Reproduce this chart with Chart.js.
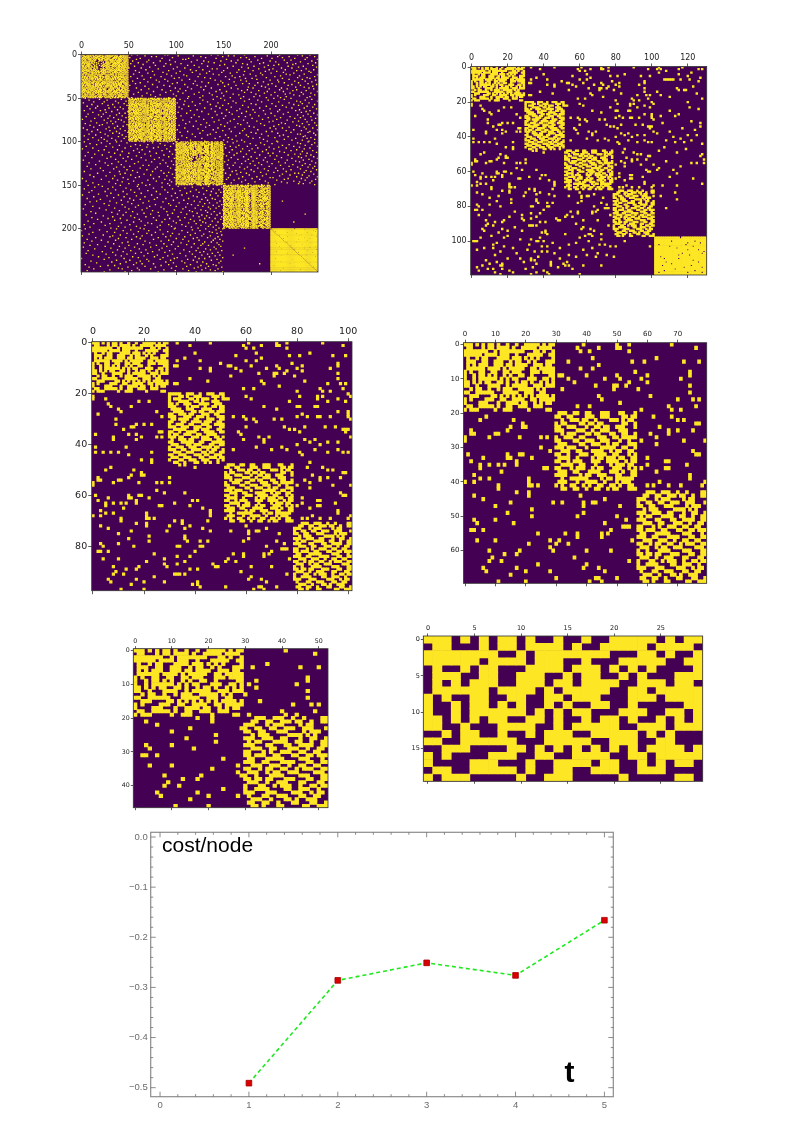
<!DOCTYPE html>
<html>
<head>
<meta charset="utf-8">
<title>Adjacency matrices and cost per node</title>
<script src="https://cdn.jsdelivr.net/npm/chart.js@4"></script>
<style>
  body { margin: 0; background: #fff; }
  canvas { position: absolute; }
  canvas.matrix { filter: blur(0.3px); }
</style>
</head>
<body>
<script>
// Maps 2-6 are nested cuts of one matrix, so they share the group data below.
// Groups are in order A B C D E.
const groupCols = [30, 22, 27, 23, 29];
const groupRows = [20, 28, 23, 27, 22];
const map2Groups = [0, 1, 2, 3, 4];
const map3Groups = [0, 1, 2, 3];
const map4Groups = [0, 2, 3];
const map5Groups = [0, 3];
const map6Groups = [0];

// group A: purple columns per row
const blockADark = [
  [3,5,7,10,12,13,15,16,18,19,25,27],
  [0,3,4,5,7,10,15,17,18,24,29],
  [8,9,11,20,21,22,25,27,28],
  [6,11,15,16,18,19,20,26,27],
  [0,2,3,5,8,9,10,15,19,21,23,25,26,27,28],
  [0,4,5,8,9,13,14,16,19,20,22,24,25,26],
  [0,2,4,8,9,13,16,21,22,26,29],
  [0,7,12,14,20,21,24],
  [1,3,4,7,8,11,12,15,19,20,21,25],
  [1,2,4,7,9,11,12,14,16,17,20,21,23,24,25,26,27],
  [1,2,4,11,13,15,18,19,20,24,25,28],
  [2,4,6,9,10,13,15,16,18,21,23,24,26,28],
  [2,3,5,6,7,12,13,15,21,22,26],
  [0,1,3,6,7,9,10,12,16,17,23,25,27,28,29],
  [2,3,10,11,12,18,19,23,24,27,28,29],
  [0,1,5,6,7,8,11,13,15,17,19,21,23,28],
  [1,3,4,5,6,10,11,14,15,20,21,24],
  [1,2,3,4,8,9,10,12,13,18,21,22,24,26,29],
  [0,3,4,10,12,13,16,17,21,22,26,27,28,29],
  [1,5,6,7,8,9,11,12,16,17,18,19,20,22,23,24,25,26,29]
];
const blockB = [
  "1111100111001001110011","1000110100111000011101","1011100011010111001001","1000111100110100011100",
  "1101001110001111001110","1110000101110010011011","0111100111000111100011","0011110001101100110111",
  "1100111011000111001100","1110001110011101000111","0110111100110001110011","1100011001111011100110",
  "1001110011000111001111","1110011100111001100011","0011111000110111000110","1100100111100011110011",
  "1011001110011001111000","1110110001110111001101","0100111011000111100110","1100011111001100011111",
  "0111000110111000110011","1001110011100111101100","1110011001111001011001","0011100111000110110011",
  "1100111000111011001110","0111001110001100111011","1000110011100111000101","0011001000110010100100"
];
const blockC = [
  "011100110011000111000110001","110011000011100111000011011","001001110110010000111010110","101100001101101100000011001",
  "110011100010011011001110001","111000011100100111000111000","001011100011011000110011001","100111001100001110011011111",
  "110000110011100111000100100","011100001100111001011000111","111011100010000111110011001","001110011000111100101100110",
  "110010001110011110011000101","011110010000101101110110011","110010111000111001111001011","001111001100010000101110110",
  "110001011100101100011100101","011100110001111000111010011","111100001011001110001100011","001001111110000101101111110",
  "011100010011110010001011100","101001100101001100110100110","001100110010011001011000111"
];
const blockD = [
  "00011100111001001000011","00110011001110110010011","11100010111000010110000","10011001100111001110001",
  "11001100011100001011100","00101110000011110101000","11100111001100010011001","01011000111100110010011",
  "11100011000110011110011","00111001100011100100110","11000101001110011001100","11011100110001100110111",
  "01100011111000011100010","11100110001111000110011","00111001110010011001100","11001011001100101110011",
  "01110010110011100001110","10010001111000011100011","11011011000111000110011","01110010011100011000110",
  "10001100101110010011011","10011110000110011100100","11100011100001110010110","01000110011100011001100",
  "00111001000110100111000","01100110010001100011001","00110100011000001100111"
];
// group E is almost solid yellow: purple cells as [row, column]
const blockEHoles = [
  [0,14],[2,9],[2,22],[3,18],[3,25],[4,17],[5,8],[5,21],[6,12],[7,18],[7,24],[9,15],[9,26],
  [10,13],[10,19],[12,5],[12,13],[13,21],[14,6],[14,24],[15,9],[16,4],[17,16],[17,26],[18,11],
  [19,5],[19,22],[20,2],[20,18],[20,26],[11,3],[8,27],[4,2],[16,20]
];
// single yellow cells outside the blocks: [row, columns...]
const sparseCells = [
  [0,33,46,61,72,76,90,104,117],[1,38,59,66,72,73,98,103,105,115,126,128],[2,60,63,76,108],[3,104,122],[4,64,85,115,40],
  [5,77,81,94,99,120,56],[6,36,66,127],[7,33,42,60,64,107,108,109,110,111,112,116,121],[8,78,96,126,50],[9,32,33,53,54,62,72,82,96],
  [10,42,46,56,68,73,80,93],[11,46,58,76,82,123],[12,65,71,72,75,96,114],[13,54,71,79,115,118,119],[14,38,96,103],
  [15,45,83,125,66],[16,32,33,67,92,97,99,105],[17,73,110],[18,59,63,89,98,128],[19,80,90,93],
  [20,100,120],[21,0,60,81,88,90,101],[22,0,5,52,53,62,88,96],[23,18,22,77,92,99,121],[24,6,126],
  [25,7,15,67,80,81,87,88,110],[26,10,72],[27,11,25,96,100,115],[28,2,82,100,105,113],[29,27,55,59,80,84,88,89,93,100],
  [30,9,60,63,71,74,101],[31,122,64],[32,9,17,20,23,127,106],[33,15,16,60,75,83,91,95],[34,12,77,79,98,99,100,127],
  [35,26,27,57,81,99,117],[36,1,14,17,58,124],[37,8,19,25,27,65,69,101,110],[38,8,17,59,67,83,87,103],[39,67,85,92,96,120,125],
  [40,80,89,112],[41,1,13,64,74,116],[42,55,70,76,87,96,108,122],[43,1,4,7,10,23,81,92,98,100,113,118],[44,14,82,128],
  [46,19,23,107],[47,23,85,119],[48,34,36,104],[49,7,40,84,90,114],[50,5,16,92,94,128],
  [51,19,98,99,127],[52,15,19,20,86],[53,2,14,30,89,92,97,129],[54,2,3,10,11,83,89,108],[55,0,8,18,25,27,30,85,122,125,129],
  [56,0,80,94,101],[57,85,116],[58,25,104],[59,28,36,97,103,112],[60,1,14,18,19,98,99],
  [61,6,14,15,22,82,114],[62,2,17,39,41,88,89],[63,5,8,11,13,17,32,82,95,110],[64,5,26,27,38,80,88,89,123],[65,12,43,85],
  [66,3,46,96],[67,5,8,21,46,96,128],[68,0,3,21,46,86,101,106,114],[69,11,21,22,24,82,84,89,93,100],[70,11,32,35,45],
  [71,17,21,35],[72,3,21,30,38,60,113],[73,6,36,43,68],[74,15,29,46,54,61,64,65,105],[75,10,61,73],
  [76,22,36,114],[77,14,36,61],[78,22,37,42,45,59,72],[79,3,10,75],[80,4,16,33,34,42,43,68],
  [81,74,75,76,108],[82,2,3,6,40,70],[83,24,55,59,67,69],[84,33,38,59,67],[85,4,10,28,53,77],
  [86,21,36,52,56],[87,28,33,47],[88,8,18,29,48,49,62,70],[89,13,17,38,41],[90,58,9],
  [91,8,12,32,33,34,36,76],[92,62,24],[93,17,61,66,6],[94,7,28,41,68,20],[95,39,41,15],[96,42,52,65,66,72],[97,11,20,63,67],
  [98,5,38,60,18],[99,33,72,27],[100,1,2,3,36,37,40,65,85],[101,45,14,58],[102,12,54,71,74,32],[103,18,39,42,77,80,99],
  [104,7,12,23,49,67],[105,31,62,3],[106,35,39,42,16],[107,46,25,70],[108,13,54,64,75],[109,58,69,79,37],
  [110,20,27,33,49],[111,33,35,8],[112,29,53,14,44],[113,10,17,36,44,51],[114,6,16,17,44,52,54,62,72],
  [115,3,34,48],[116,9,12,17,30,56],[117,40,21,4],[118,23,42,13,36],[119,33,43,60,16]
];

// 250-node map: cells are under one pixel here, so this is an estimate of the
// look of each block (hex rows, 50 cells each), not an exact reading
const big1Rows = [
  "E5A96D3B7C5A8","B36D9A5ECA6D4","9DA6735B96EA8","6B95CE6A3D5B4","D56AB39C75A68","A9E5367BC9D54","5C6B1AD36BA98","C95A1435D6E74",
  "B6D42129A5CB8","6A92813D5B964","D5A8246A3D6A8","93C4819C6AB54","E5A21273D5968","6B9285AC69DA4","A5D8413A96B78","5CA68136C5AD4",
  "D9624D9A6B5C8","A6B5036D95A68","5D96A5C36BDA4","E3A96D5A9C658","9C5AB36E5A9B4","B69DA5C96D6A8","6D5A97A3C5B74","C5B96A5DA96C8",
  "A96E5C3A6D594","5AD39B6C95EA8","D65AC96A5B3D4","96BD5A3D6AC58","EA596CB5A9D64","6D9A5E36C5AB8","B5C6A9D5963D4","9A6D53AE6B5C8",
  "5E9CA6D3A96B4","D3A96B5C6DA58","A6C5DA96B5E34","6BA95C3DA6D98","C96DA56B9C5A4","95AE6C39D6B58","E6B95AC36A9D4","5AD6C9A5E3964",
  "B96A5DC6A5B38","6D39AC5B96EA4","D5A6B96D3C5A8","A3C96E5A6B9D4","5B6DA9C5D6A38","C96A35EB9A6D4","9E5C6DA369B58","6AB59C6DA5E34",
  "D56B3A96C9DA8","A96D5C6A5B364",
  "C96EA5D3A6B98","5BA96C6D95A34","E6A5D39AC6B58","9C5B6EA5396D4","6D9AC5B6AE958","B5A369DC6A5B4","A96DC53BE5968","5EB6A9C6D3A54",
  "D39A6C5BA6E98","6AC5E96D35B64","95DB6AA3C96D8","E6593DAC5B6A4","B9A6D56C9E358","5D6CA9B3A5D64","A6B95ED6A3C98","C5A3D96BA65E4",
  "96DA5C3EB6958","6BE5A96C5AD34","D95C6BA36D9A8","A3B69DC5A5E64","5EA96B6DC3958","C6D5A39EA6B54","B96A5DC36E598","6DB5AE9C5A364",
  "E5A96C3D6BA98","9C6DB5A69E354","5AB3E6C9D6A58","D69A5CB5A3E64","A5EC96D3B6958","6D3A9C5EA5B64","C9B6D5A36AD98","95A6EB3DC6954",
  "EB5C96AD5A368","6AD39CB6E5A54","D5C6A9E35B698","A96B5DC6A3DE4","5D3EA6B9C6958","B6A95CD5AE364","96DC5AB36D9A8","E5A36D9CB5A64",
  "6C9DA5E6A3B58","DA5B96C35E6A4","A36DC9B5A6958","5E96AB6DC3A54","C5AD369EB6A98","96BA5DC6E3594","6D5EA39C6AB58","B9C65AD3E6964",
  "E3A5D96BC6A58","5B96CAE36D9A4",
  "C6A95DB3E6598","9D35AC6E96B54","6AE59D3CA6B98","B5C96D5A3E6A4","D6A3C95BE6958","A9B56DC3A6E54","5ED6A9B3C6598","C96BA5E36DA54",
  "3AD9C6B5E6A98","E6B5A3D9C6954","96DC5BA6E3598","5BA96CE36D6A4","DA6C39B5E6A58","6E95AD3C6B954","B5C96A52C6DA8","A96D3C4136E54",
  "C5A8621196DB8","6D94825AC69E4","9AC6241B6D5A8","E5B384C6A95D4","5D96429AE6C38","B6A98136D5A94","96DC05AC6EB58","D35A9E6CB6964",
  "A6E5C9D3A5B68","5C96BA6DE3954","C3DA96E5B6A58","9E6B5AC36D9A4","6A5D9CB3EA658","E9C6A5D396B54","B53ED9A6C6A98","6DA9C5B3E6954",
  "D5EA396CB7158","A96C5BDE3A2C4","5ED6A9C3B9E38","C3A96DB5E16D4","96E5AD3C6D2B8","6BC95AE6D74A4","EA563D9CB15E8","B9D6A5C3E8B34",
  "5C6EA9B3DA478","D96B35CAE2D94","A3E6C5D9B7268","6D9AE5B3C1EA4","C5B6D9A3E4738","9A36EC5DB89C4","E6D95BA3C2B78","5BAC96E36F148",
  "B6E3A5C9D8A74","96DAC3E5B13E8",
  "E5AD396CB4D38","9C6B5EA3D7A24","6AE9D3C5B2C98","D35CA96EB8574","B6E9A5D3C1BE8","A5C96D3EB4724","5E6BA9D3C9A38","C96DE35AB2D64",
  "9AB36ED5C7198","6DC5A9E3B8E24","E3B69AD5C1578","D5A6E9C3BA3C4","B96DC5A3E7418","5AE6B9D3C2DA4","AC3D96E5B9368","96E5BAD3C47E4",
  "6DA9C3E5B12B8","C5E36AD9B7D44","E9A6DB53CA198","B3D95AE6C8E34","A6C5E9D3B5278","5BDA96E3C1AD4","D96CE3A5B7368","6EA5C9D3B2C14",
  "95B6DAE3C9E58","C3E6A9D5B4A74","EA96D5C3B1D28","B5D3A6E9C7364","6C9AE5D3B8A18","D96AB5E3C25E4","A5E3C96DB9C78","5D96EA3CB1624",
  "C6AB5E93D74B8","E5936DCAB2E14","96ADC5E3BA578","B3E9A5D6C1C84","6D5AC9E3B7A28","A96E5D3CB4D64","D5C3B6A9E9178","5AE96C3DB2BA4",
  "E36DA9C5B8548","9CB5E6A3D1E74","C5A96DE3B6A28","6DE3A95CB94D4","BA5C96E3D2738","D3E6B5A9C18E4","A96C5DE3B7C58","5EB3C96AD4A24",
  "96DA3EC5B1D98","C36E95ABD8674",
  "7FFFFFBFFFFFC","BFFFFFFFEFFF4","DFFFFDFFFFFBC","EBFFFFFFFFFEC","F7FFBFFFFDFFC","FBFFFFEFFFFFC","FDFFFFFF7FFFC","FEBFFFFFFFEFC",
  "FF7FFFFDFFFFC","FFBFBFFFFFFF4","FFDFFFFFEFFFC","FFEBFFFFFFBFC","FFF7FFFBFFFFC","FFFBFFFFFDFFC","FBFDFFFFFFFFC","FFFEBFEFFFFFC",
  "FFFF7FFFFFDFC","FDFFBFFFFFFFC","FFFFDFFFBFFFC","FFFFEBFFFFFFC","FFBFF7FFFFFEC","FFFFFBFFFFBFC","FFFFFDFFEFFFC","FFEFFEBFFFFFC",
  "FFFFFF7FFFFF4","FFFFFFBFFDFFC","FDFFFFDFFFFFC","FFFFFFEBFFF7C","FFFFBFF7FFFFC","FFFFFFFBFFFFC","FFFFFFFDFBFFC","FFEFFFFEBFFFC",
  "FFFFFFFF7FFEC","FFFFFFFFBFFFC","FBFFFFFFDFFFC","FFFFFEFFEBFFC","FFFFFFFFF7FFC","FFDFFFFFFBFFC","FFFFFFFFFDFFC","FFFFFFFFFEBFC",
  "FFFFF7FFFF7FC","FFFFFFFFFFBFC","EFFFFFFFFFDFC","FFFFFFBFFFEBC","FFFFFFFFFFF7C","FFFBFFFFFFFBC","FFFFFFFFFFFDC","FFFFFFFEFFFEC",
  "FFDFFFFFFFFF4","FFFFFFFFFFFF8"
];
const big1Sparse = [
  [0,53,59,88,91,137,144,172,209,228,241],[1,67,102,118,155,161,196,233],[2,74,79,126,149,183,207,219,246],[3,51,96,131,168,174,212,238],[4,62,85,113,142,190,201,225],
  [5,58,107,110,153,177,236,249],[6,71,93,122,165,186,214,221],[7,54,83,129,147,158,199,243],[8,69,99,116,134,179,205,231],[9,60,76,140,163,192,217,247],
  [10,52,89,105,127,170,188,226,239],[11,65,94,151,175,208,223],[12,78,112,119,146,197,203,244],[13,56,87,133,160,182,218,234],[14,72,101,124,169,193,229,248],
  [15,50,63,109,154,176,211,222],[16,81,97,138,143,187,202,237],[17,68,115,128,166,198,215,245],[18,57,92,121,150,181,227,232],[19,75,104,135,172,194,206,240],
  [20,61,86,117,148,164,213,242],[21,70,100,132,157,189,200,224],[22,55,90,125,139,178,216,235],[23,77,108,145,171,191,220,249],[24,64,95,111,159,184,210,230],
  [25,52,84,123,152,167,204,246],[26,73,103,130,162,195,228,238],[27,59,98,136,173,180,212,241],[28,66,88,114,156,185,219,233],[29,79,106,141,168,199,207,247],
  [30,54,91,120,147,174,225,236],[31,70,82,127,161,192,208,243],[32,62,101,134,149,186,214,229],[33,57,96,118,170,177,201,239],[34,75,109,144,155,197,222,248],
  [35,51,87,122,163,183,218,231],[36,67,93,131,151,190,205,244],[37,80,112,126,176,194,226,235],[38,58,99,137,158,181,211,240],[39,71,104,116,165,198,217,245],
  [40,63,85,129,146,175,209,227],[41,50,94,110,169,187,223,237],[42,76,102,142,153,196,213,249],[43,60,89,124,172,179,204,232],[44,69,107,135,148,193,220,242],
  [45,55,97,119,160,184,215,234],[46,73,83,138,166,200,224,246],[47,64,100,128,150,188,207,230],[48,78,113,143,171,182,216,241],[49,53,92,125,157,195,210,238],
  [50,4,31,112,147,168,203,221],[51,19,42,104,139,177,214,243],[52,8,27,128,151,186,197,236],[53,36,47,109,160,172,227,249],[54,13,24,117,133,190,208,231],
  [55,2,39,101,144,163,219,240],[56,22,45,125,155,179,201,233],[57,11,33,108,136,184,224,246],[58,28,48,120,149,170,212,229],[59,6,17,113,142,195,205,238],
  [60,35,41,103,158,176,216,244],[61,15,29,130,146,188,222,235],[62,9,44,106,137,167,199,248],[63,25,38,122,153,181,209,230],[64,3,20,115,164,192,226,241],
  [65,32,49,127,141,174,207,237],[66,12,26,102,156,183,218,232],[67,40,46,111,148,169,200,245],[68,7,23,134,159,194,213,239],[69,18,37,119,143,178,228,249],
  [70,30,43,105,152,187,204,234],[71,5,21,124,166,173,220,242],[72,34,47,116,138,197,210,231],[73,14,28,100,150,180,225,247],[74,1,39,129,161,191,206,236],
  [75,24,42,107,145,171,217,243],[76,10,31,121,157,185,202,229],[77,36,45,114,140,198,223,238],[78,16,27,132,154,175,211,246],[79,4,33,110,165,189,215,233],
  [80,22,48,126,147,168,208,240],[81,9,19,103,135,193,227,248],[82,38,44,118,151,177,203,230],[83,13,29,131,162,182,219,235],[84,2,35,109,144,199,212,244],
  [85,26,41,123,156,172,205,237],[86,6,17,101,139,186,224,249],[87,30,46,128,149,170,216,232],[88,11,37,112,158,195,201,241],[89,20,49,104,142,179,221,239],
  [90,33,40,125,167,184,207,245],[91,8,25,117,136,190,228,231],[92,15,43,133,152,174,213,247],[93,3,28,106,163,197,209,236],[94,39,47,120,146,176,218,234],
  [95,12,21,111,155,188,204,242],[96,32,45,127,141,181,226,238],[97,7,24,102,159,192,214,246],[98,18,36,115,150,169,222,233],[99,27,42,130,164,196,206,240],
  [100,3,37,66,91,154,172,207,239],[101,21,48,75,160,189,228,246],[102,9,30,83,97,178,201,231],[103,16,57,70,151,193,219,243],[104,40,62,88,166,184,212,236],
  [105,5,26,52,94,157,175,224,249],[106,33,69,81,163,198,208,230],[107,12,46,76,152,186,216,241],[108,1,59,90,170,180,203,235],[109,24,38,64,99,159,195,227],
  [110,18,55,85,149,177,221,244],[111,43,72,93,168,191,209,233],[112,7,29,61,156,183,214,248],[113,35,50,79,164,197,202,238],[114,14,67,96,150,174,225,231],
  [115,22,41,87,161,188,218,242],[116,4,58,73,153,199,206,237],[117,31,49,92,171,179,229,245],[118,11,63,82,158,194,211,232],[119,27,44,98,148,185,222,249],
  [120,36,53,77,165,176,204,240],[121,2,68,86,155,192,217,234],[122,19,47,95,173,181,226,243],[123,39,60,74,151,196,208,230],[124,8,25,89,162,187,215,247],
  [125,32,56,83,169,178,201,236],[126,15,42,97,154,190,223,241],[127,28,65,71,160,183,210,233],[128,6,51,91,147,198,219,246],[129,37,45,80,167,175,228,239],
  [130,20,62,94,156,186,205,244],[131,10,34,78,172,193,213,231],[132,48,69,99,150,179,221,248],[133,23,54,84,163,197,207,237],[134,3,40,75,159,182,216,242],
  [135,30,59,92,168,189,203,235],[136,17,46,87,152,174,225,229],[137,41,66,96,164,195,212,245],[138,9,52,73,157,177,220,233],[139,26,35,90,149,191,209,240],
  [140,13,61,82,170,185,227,249],[141,44,57,98,155,199,202,238],[142,1,33,76,166,180,218,232],[143,21,49,88,153,188,214,247],[144,38,70,93,161,173,206,236],
  [145,5,55,79,148,194,224,243],[146,29,43,95,169,183,211,230],[147,12,64,85,158,197,217,241],[148,36,50,91,151,176,229,234],[149,18,60,72,165,190,204,246],
  [150,7,41,68,93,126,143],[151,22,59,102,134],[152,14,33,85,117,148],[153,47,76,109,128],[154,3,28,61,96,139],[155,36,52,88,121,145],[156,11,70,104,132],
  [157,25,44,79,115,137],[158,8,56,91,124,147],[159,31,63,99,111,142],[160,18,48,83,129],[161,1,39,74,106,136,168],[162,27,58,95,118,144],[163,13,45,67,122],
  [164,34,80,101,131,149],[165,6,51,89,113,138],[166,20,62,77,127,141],[167,42,55,97,108,133],[168,16,30,71,119,146,212],[169,9,49,86,125],[170,37,65,103,135,143],
  [171,24,53,92,112,130],[172,4,43,78,116,148],[173,29,60,94,123,139],[174,12,72,100,128,145],[175,46,57,84,110,134],[176,19,35,69,120,142],[177,2,50,87,107,136],
  [178,26,64,98,126,149],[179,40,75,114,131,183],[180,10,54,90,117,140],[181,32,47,81,105,133],[182,15,66,96,122,146],[183,38,59,73,111,137,236],[184,5,44,91,127,143],
  [185,23,52,82,118,132],[186,33,68,102,124,148],[187,11,56,76,109,135],[188,28,41,93,130,141],[189,17,61,88,115,147],[190,35,48,79,104,125],[191,7,63,97,119,138],
  [192,21,55,85,128,144,224],[193,42,70,100,113,131],[194,13,30,74,121,149],[195,3,51,92,106,136],[196,25,67,83,126,142],[197,39,58,95,110,134],[198,9,46,80,116,139],[199,31,62,99,123,145],
  [200,4,37,66,98,131,149],[201,19,52,83,117,142],[202,0,44,71,106,125],[203,27,60,91,135,147],[204,12,35,78,112,138],[205,48,69,96,120,143],[206,8,55,86,103,129],
  [207,23,41,74,115,148],[208,1,33,64,94,127,136],[209,30,58,89,109,144],[210,15,47,81,122,133],[211,39,62,100,118,141],[212,6,53,76,107,146],[213,21,36,92,124,139],
  [214,11,67,84,113,149],[215,28,49,97,130,137],[216,3,43,72,105,143],[217,34,59,87,119,128],[218,17,65,95,111,145],[219,9,50,79,126,134],[220,25,40,90,102,147],
  [221,2,56,73,116,140],[222,31,46,85,123,172],[223,14,61,99,131,142],[224,38,68,82,108,136],[225,7,52,93,121,148],[226,22,44,75,114,129],[227,33,63,88,125,144],
  [228,5,57,70,104,138],[229,26,48,96,117,133],[230,12,36,80,127,160,146],[231,42,66,91,110,141],[232,18,54,77,120,135],[233,29,60,86,101,149],[234,0,45,98,124,130],
  [235,24,69,83,112,143],[236,37,51,94,118,137],[237,10,62,71,106,147],[238,32,47,89,122,128],[239,16,58,97,109,145],[240,41,64,76,132,188],[241,4,55,92,115,139],
  [242,28,35,84,126,142],[243,20,67,100,111,134],[244,8,49,78,123,148],[245,39,59,95,119,131],[246,13,43,73,107,144],[247,30,61,87,127,136],[248,6,53,99,113,141],[249,24,46,81,121,149]
];

// cost/node series
const costT = [1, 2, 3, 4, 5];
const costValues = [-0.491, -0.286, -0.251, -0.276, -0.166];
const costXTicks = [0, 1, 2, 3, 4, 5];
const costYTicks = [0, -0.1, -0.2, -0.3, -0.4, -0.5];

const map1XTicks = [0, 50, 100, 150, 200];
const map1YTicks = [0, 50, 100, 150, 200];
const map2XTicks = [0, 20, 40, 60, 80, 100, 120];
const map2YTicks = [0, 20, 40, 60, 80, 100];
const map3XTicks = [0, 20, 40, 60, 80, 100];
const map3YTicks = [0, 20, 40, 60, 80];
const map4XTicks = [0, 10, 20, 30, 40, 50, 60, 70];
const map4YTicks = [0, 10, 20, 30, 40, 50, 60];
const map5XTicks = [0, 10, 20, 30, 40, 50];
const map5YTicks = [0, 10, 20, 30, 40];
const map6XTicks = [0, 5, 10, 15, 20, 25];
const map6YTicks = [0, 5, 10, 15];

const PURPLE = "#440154";
const YELLOW = "#fde725";

function sum(list) {
  return list.reduce((a, b) => a + b, 0);
}

function masterCells() {
  const cells = [];
  const colStart = i => sum(groupCols.slice(0, i));
  const rowStart = i => sum(groupRows.slice(0, i));
  blockADark.forEach((dark, r) => {
    for (let c = 0; c < groupCols[0]; c++) if (!dark.includes(c)) cells.push([r, c]);
  });
  [blockB, blockC, blockD].forEach((rows, k) => {
    rows.forEach((row, r) => {
      for (let c = 0; c < Math.min(row.length, groupCols[k + 1]); c++) {
        if (row[c] === "1") cells.push([rowStart(k + 1) + r, colStart(k + 1) + c]);
      }
    });
  });
  for (let r = 0; r < groupRows[4]; r++) {
    for (let c = 0; c < groupCols[4]; c++) {
      if (!blockEHoles.some(h => h[0] === r && h[1] === c)) cells.push([rowStart(4) + r, colStart(4) + c]);
    }
  }
  sparseCells.forEach(row => row.slice(1).forEach(c => cells.push([row[0], c])));
  return cells;
}

// keep the cells of some groups and close the gaps between them
function cutCells(all, groups) {
  const rowMap = {}, colMap = {};
  let nr = 0, nc = 0;
  groups.forEach(g => {
    const r0 = sum(groupRows.slice(0, g)), c0 = sum(groupCols.slice(0, g));
    for (let i = 0; i < groupRows[g]; i++) rowMap[r0 + i] = nr++;
    for (let i = 0; i < groupCols[g]; i++) colMap[c0 + i] = nc++;
  });
  const cells = [];
  all.forEach(([r, c]) => {
    if (rowMap[r] !== undefined && colMap[c] !== undefined) cells.push([rowMap[r], colMap[c]]);
  });
  return { cells, rows: nr, cols: nc };
}

function bigCells() {
  const cells = [];
  big1Rows.forEach((hex, r) => {
    const block = Math.floor(r / 50);
    const bits = hex.split("").map(h => parseInt(h, 16).toString(2).padStart(4, "0")).join("");
    for (let c = 0; c < 50; c++) if (bits[c] === "1") cells.push([r, block * 50 + c]);
  });
  big1Sparse.forEach(row => {
    row.slice(1).forEach(c => cells.push([row[0], c]));
  });
  return { cells, rows: 250, cols: 250 };
}

function placeCanvas(left, top, width, height, cls) {
  const canvas = document.createElement("canvas");
  canvas.width = width;
  canvas.height = height;
  canvas.style.left = left + "px";
  canvas.style.top = top + "px";
  if (cls) canvas.className = cls;
  document.body.appendChild(canvas);
  return canvas;
}

function heatmap(m, box, xTicks, yTicks, font, tickLen, inflate) {
  const padL = 34, padT = tickLen + font + 6, padB = tickLen + 3, padR = 12;
  const left = Math.floor(box.l - padL), top = Math.floor(box.t - padT);
  const width = Math.ceil(box.r + padR) - left, height = Math.ceil(box.b + padB) - top;
  const ctx = placeCanvas(left, top, width, height, "matrix").getContext("2d");
  const setTicks = list => scale => { scale.ticks = list.map(v => ({ value: v })); };
  const grid = { offset: false, drawOnChartArea: false, drawTicks: true, tickLength: tickLen, tickColor: "#333", tickWidth: 0.8 };
  const labels = { font: { family: "DejaVu Sans", size: font }, color: "#222", padding: 1, autoSkip: false, maxRotation: 0 };
  new Chart(ctx, {
    type: "bar",
    data: {
      datasets: [{
        data: m.cells.map(([r, c]) => ({ x: c, y: [r - 0.5, r + 0.5] })),
        backgroundColor: YELLOW,
        borderWidth: 0,
        barPercentage: 1,
        categoryPercentage: 1,
        inflateAmount: inflate,
        xAxisID: "x",
        yAxisID: "y",
      }],
    },
    options: {
      responsive: false,
      animation: false,
      events: [],
      layout: { autoPadding: false, padding: { right: width + left - box.r } },
      plugins: { legend: { display: false }, tooltip: { enabled: false } },
      scales: {
        x: {
          type: "linear", position: "top", offset: false, min: -0.5, max: m.cols - 0.5,
          afterBuildTicks: setTicks(xTicks),
          afterFit: s => { s.height = box.t - top; },
          grid: grid, border: { display: false }, ticks: labels,
        },
        x2: {
          type: "linear", position: "bottom", offset: false, min: -0.5, max: m.cols - 0.5,
          afterBuildTicks: setTicks(xTicks),
          afterFit: s => { s.height = top + height - box.b; },
          grid: grid, border: { display: false },
          ticks: { callback: () => "", autoSkip: false, maxRotation: 0 },
        },
        y: {
          type: "linear", reverse: true, min: -0.5, max: m.rows - 0.5,
          afterBuildTicks: setTicks(yTicks),
          afterFit: s => { s.width = box.l - left; },
          grid: grid, border: { display: false }, ticks: labels,
        },
      },
    },
    plugins: [{
      id: "plotBox",
      beforeDatasetsDraw(chart) {
        const a = chart.chartArea;
        chart.ctx.fillStyle = PURPLE;
        chart.ctx.fillRect(a.left, a.top, a.width, a.height);
      },
      afterDatasetsDraw(chart) {
        const a = chart.chartArea;
        chart.ctx.strokeStyle = "#333";
        chart.ctx.lineWidth = 0.8;
        chart.ctx.strokeRect(a.left, a.top, a.width, a.height);
      },
    }],
  });
}

const master = masterCells();
heatmap(bigCells(), { l: 81, r: 318, t: 54.5, b: 272 }, map1XTicks, map1YTicks, 8, 3, 0.22);
heatmap(cutCells(master, map2Groups), { l: 470.7, r: 706.7, t: 66.5, b: 275 }, map2XTicks, map2YTicks, 8, 3, 0.33);
heatmap(cutCells(master, map3Groups), { l: 91.7, r: 352, t: 341.7, b: 590.7 }, map3XTicks, map3YTicks, 9.5, 3.5, 0.33);
heatmap(cutCells(master, map4Groups), { l: 463.5, r: 706.7, t: 342.7, b: 583.3 }, map4XTicks, map4YTicks, 7, 3, 0.33);
heatmap(cutCells(master, map5Groups), { l: 133.3, r: 328, t: 648.7, b: 807.7 }, map5XTicks, map5YTicks, 6.3, 2.5, 0.33);
heatmap(cutCells(master, map6Groups), { l: 423.3, r: 702.7, t: 636, b: 781.3 }, map6XTicks, map6YTicks, 6.5, 2.5, 0.33);

// cost/node panel, frame ticks point inwards on all four sides
function costChart() {
  const box = { l: 150.7, r: 613.3, t: 832.3, b: 1096.7 };
  const left = 110, top = 812, width = 512, height = 304;
  const ctx = placeCanvas(left, top, width, height, "").getContext("2d");
  const labels = { font: { family: "Liberation Sans", size: 9.5 }, color: "#6b6b6b", padding: 3, autoSkip: false, maxRotation: 0 };
  const setTicks = list => scale => { scale.ticks = list.map(v => ({ value: v })); };
  const noGrid = { display: false, drawTicks: false };
  new Chart(ctx, {
    type: "line",
    data: {
      datasets: [{
        data: costT.map((t, i) => ({ x: t, y: costValues[i] })),
        borderColor: "#1fe81f",
        borderWidth: 1.6,
        borderDash: [4, 3],
        tension: 0,
        pointStyle: "rect",
        pointRadius: 4,
        pointBackgroundColor: "#d80000",
        pointBorderColor: "#a80000",
        pointBorderWidth: 0.8,
      }],
    },
    options: {
      responsive: false,
      animation: false,
      events: [],
      layout: { autoPadding: false, padding: { right: width + left - box.r } },
      plugins: { legend: { display: false }, tooltip: { enabled: false } },
      scales: {
        x: {
          type: "linear", min: -0.105, max: 5.1,
          afterBuildTicks: setTicks(costXTicks),
          afterFit: s => { s.height = top + height - box.b; },
          grid: noGrid, border: { display: false }, ticks: labels,
        },
        xTop: {
          type: "linear", axis: "x", position: "top", min: -0.105, max: 5.1,
          afterBuildTicks: setTicks(costXTicks),
          afterFit: s => { s.height = box.t - top; },
          grid: noGrid, border: { display: false },
          ticks: { callback: () => "", autoSkip: false, maxRotation: 0 },
        },
        y: {
          type: "linear", min: -0.518, max: 0.0094,
          afterBuildTicks: setTicks(costYTicks),
          afterFit: s => { s.width = box.l - left; },
          grid: noGrid, border: { display: false },
          ticks: Object.assign({}, labels, { callback: v => v.toFixed(1).replace("-", "\u2212") }),
        },
      },
    },
    plugins: [{
      id: "mathFrame",
      afterDatasetsDraw(chart) {
        const c = chart.ctx, a = chart.chartArea, sx = chart.scales.x, sy = chart.scales.y;
        c.save();
        c.strokeStyle = "#8c8c8c";
        c.lineWidth = 1.2;
        c.strokeRect(a.left, a.top, a.width, a.height);
        c.lineWidth = 0.8;
        c.strokeStyle = "#6e6e6e";
        c.beginPath();
        for (let i = 0; i <= 25; i++) {
          const x = sx.getPixelForValue(i * 0.2), len = i % 5 === 0 ? 5 : 2.5;
          c.moveTo(x, a.bottom); c.lineTo(x, a.bottom - len);
          c.moveTo(x, a.top); c.lineTo(x, a.top + len);
        }
        for (let i = 0; i <= 25; i++) {
          const y = sy.getPixelForValue(-i * 0.02), len = i % 5 === 0 ? 5 : 2.5;
          c.moveTo(a.left, y); c.lineTo(a.left + len, y);
          c.moveTo(a.right, y); c.lineTo(a.right - len, y);
        }
        c.stroke();
        c.fillStyle = "#000";
        c.textAlign = "left";
        c.textBaseline = "alphabetic";
        c.font = "21px 'Liberation Sans'";
        c.fillText("cost/node", 162 - left, 852 - top);
        c.font = "bold 30px 'Liberation Sans'";
        c.fillText("t", 564.5 - left, 1081.5 - top);
        c.restore();
      },
    }],
  });
}
costChart();
</script>
</body>
</html>
